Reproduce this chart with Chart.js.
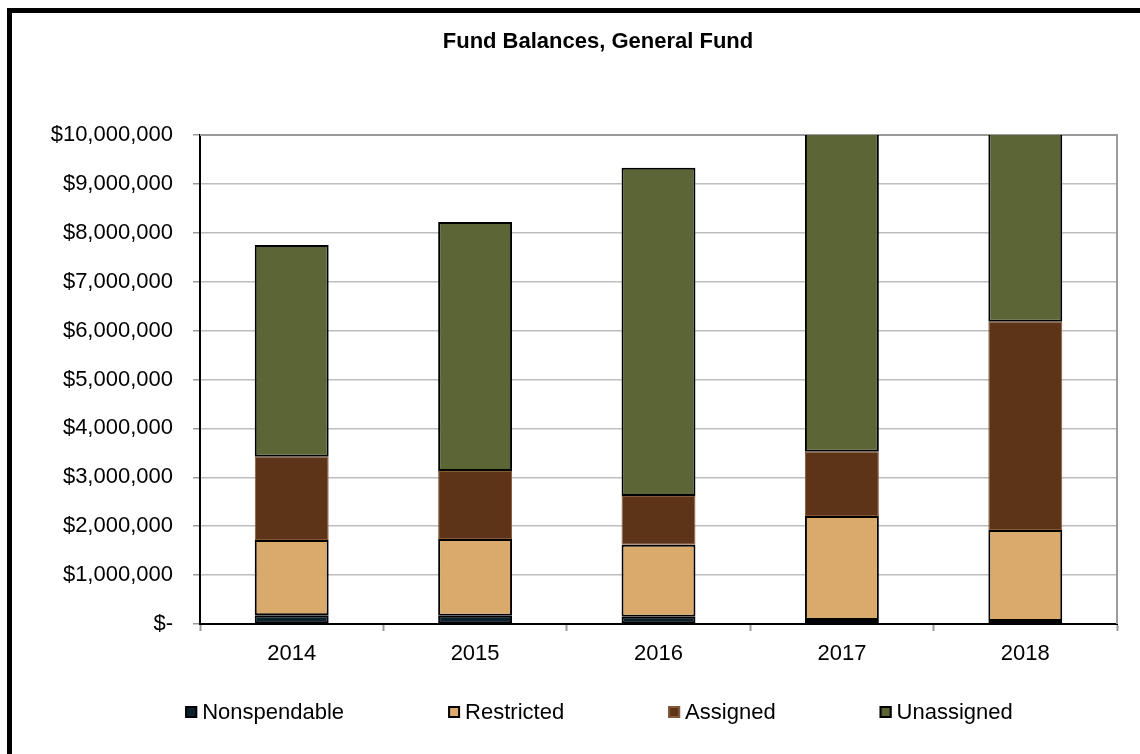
<!DOCTYPE html>
<html>
<head>
<meta charset="utf-8">
<title>Fund Balances, General Fund</title>
<script src="https://cdn.jsdelivr.net/npm/chart.js@4/dist/chart.umd.min.js"></script>
<style>
  html, body { margin: 0; padding: 0; background: #fff; overflow: hidden; }
  .frame {
    position: absolute; left: 7px; top: 8px;
    width: 1200px; height: 800px;
    border-left: 5px solid #000; border-top: 5px solid #000;
  }
  .frame canvas { position: absolute; left: 0; top: 0; }
</style>
</head>
<body>
<div class="frame">
  <canvas id="fundChart" width="1172" height="741"></canvas>
</div>
<script>
// fiscal years and fund balance components (dollars)
const years = ['2014', '2015', '2016', '2017', '2018'];
const nonspendable = [180000, 170000, 150000, 80000, 60000];
const restricted = [1540000, 1570000, 1470000, 2130000, 1860000];
const assigned = [1700000, 1390000, 1000000, 1310000, 4260000];
const unassigned = [4330000, 5090000, 6710000, 7300000, 4500000];

const yMin = 0;
const yMax = 10000000;
const yStep = 1000000;

const FONT = "'Liberation Sans', Arial, sans-serif";
const SIZE = 22;

function money(v) {
  if (v === 0) return '$-';
  return '$' + v.toLocaleString('en-US');
}

// gray frame on the top/right of the plot area
const plotFrame = {
  id: 'plotFrame',
  beforeDatasetsDraw(chart) {
    const { ctx, chartArea: a } = chart;
    ctx.save();
    ctx.strokeStyle = '#9a9a9a';
    ctx.lineWidth = 2;
    ctx.beginPath();
    ctx.moveTo(a.left, a.top);
    ctx.lineTo(a.right, a.top);
    ctx.lineTo(a.right, a.bottom);
    ctx.stroke();
    ctx.restore();
  }
};

// single legend row under the axis, spaced like the spreadsheet legend
const legendRow = {
  id: 'legendRow',
  afterDraw(chart, args, opts) {
    const { ctx } = chart;
    const sets = chart.data.datasets;
    const box = 12, gap = 5;
    ctx.save();
    ctx.font = `${opts.size}px ${FONT}`;
    ctx.textBaseline = 'middle';
    const widths = sets.map(ds => box + gap + ctx.measureText(ds.label).width);
    const total = widths.reduce((s, w) => s + w, 0) + opts.spacing * (sets.length - 1);
    let x = opts.centerX - total / 2;
    sets.forEach((ds, i) => {
      const y = opts.y;
      ctx.fillStyle = ds.backgroundColor;
      ctx.fillRect(x, y - box / 2, box, box);
      ctx.strokeStyle = ds.legendBorder;
      ctx.lineWidth = 2;
      ctx.strokeRect(x + 1, y - box / 2 + 1, box - 2, box - 2);
      ctx.fillStyle = '#000';
      ctx.fillText(ds.label, x + box + gap, y + 1);
      x += widths[i] + opts.spacing;
    });
    ctx.restore();
  }
};

function series(label, data, fill, border, bw, legendBorder) {
  return {
    label, data,
    backgroundColor: fill,
    borderColor: border,
    borderWidth: bw,
    borderSkipped: false,
    legendBorder,
    clip: 0
  };
}

new Chart(document.getElementById('fundChart'), {
  type: 'bar',
  data: {
    labels: years,
    datasets: [
      series('Nonspendable', nonspendable, '#0b222e', '#000000', 2, '#000000'),
      series('Restricted', restricted, '#d9aa6c', '#000000', 2, '#000000'),
      series('Assigned', assigned, '#5e3418', '#86583a', 1, '#86583a'),
      series('Unassigned', unassigned, '#5c6535', '#000000', 2, '#000000')
    ]
  },
  options: {
    responsive: false,
    animation: false,
    devicePixelRatio: 1,
    categoryPercentage: 1,
    barPercentage: 0.403,
    layout: { padding: { left: 0, right: 0, top: 0, bottom: 70 } },
    plugins: {
      legend: { display: false },
      tooltip: { enabled: false },
      title: {
        display: true,
        text: 'Fund Balances, General Fund',
        color: '#000',
        font: { family: FONT, size: SIZE, weight: 'bold' },
        padding: { top: 15.8, bottom: 79.8 }
      },
      legendRow: { centerX: 587, y: 699, size: SIZE, spacing: 104 }
    },
    scales: {
      x: {
        stacked: true,
        afterFit(scale) { scale.height = 60; },
        grid: {
          offset: true,
          drawOnChartArea: false,
          drawTicks: true,
          tickLength: 7,
          tickColor: '#9a9a9a',
          tickWidth: 2
        },
        border: { color: '#000', width: 2 },
        ticks: { color: '#000', padding: 10, font: { family: FONT, size: SIZE } }
      },
      y: {
        stacked: true,
        min: yMin,
        max: yMax,
        afterFit(scale) { scale.width = 188; },
        grid: {
          color: '#bdbdbd',
          lineWidth: 1.5,
          drawTicks: true,
          tickLength: 7,
          tickColor: '#9a9a9a'
        },
        border: { color: '#000', width: 2 },
        ticks: {
          stepSize: yStep,
          color: '#000',
          padding: 20,
          font: { family: FONT, size: SIZE },
          callback: v => money(v)
        }
      },
      // blank strip on the right so the plot ends where the frame does
      side: {
        position: 'right',
        afterFit(scale) { scale.width = 67; },
        grid: { display: false },
        border: { display: false },
        ticks: { display: false }
      }
    }
  },
  plugins: [plotFrame, legendRow]
});
</script>
</body>
</html>
